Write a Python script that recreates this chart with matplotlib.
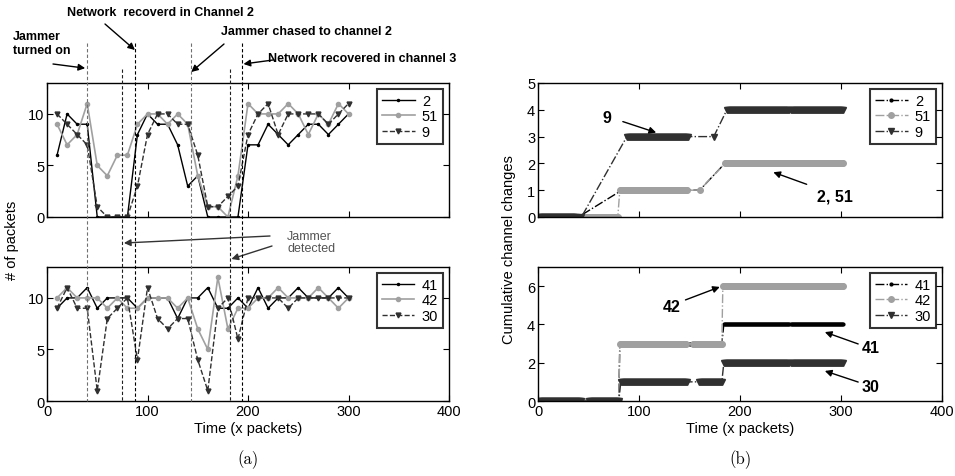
import matplotlib
matplotlib.use("Agg")
import matplotlib.pyplot as plt
import matplotlib.transforms as mtransforms
from matplotlib.lines import Line2D
import numpy as np

# ---- data: packets received per window (panel a) ----
t_pk = [10, 20, 30, 40, 50, 60, 70, 80, 90, 100, 110, 120, 130, 140, 150,
        160, 170, 180, 190, 200, 210, 220, 230, 240, 250, 260, 270, 280, 290, 300]

pk_2 = [6, 10, 9, 9, 0, 0, 0, 0, 8, 10, 9, 9, 7, 3, 4,
        0, 0, 0, 0, 7, 7, 9, 8, 7, 8, 9, 9, 8, 9, 10]
pk_51 = [9, 7, 8, 11, 5, 4, 6, 6, 9, 10, 10, 9, 10, 9, 4,
         1, 1, 0, 4, 11, 10, 10, 10, 11, 10, 8, 10, 9, 11, 10]
pk_9 = [10, 9, 8, 7, 1, 0, 0, 0, 3, 8, 10, 10, 9, 9, 6,
        1, 1, 2, 3, 8, 10, 11, 8, 10, 10, 10, 10, 9, 10, 11]

pk_41 = [9, 10, 10, 11, 9, 10, 10, 10, 9, 10, 10, 10, 8, 10, 10,
         11, 9, 9, 10, 9, 11, 9, 10, 10, 11, 10, 10, 10, 11, 10]
pk_42 = [10, 11, 10, 10, 10, 9, 10, 9, 9, 10, 10, 10, 9, 10, 7,
         5, 12, 7, 9, 9, 10, 10, 11, 10, 10, 10, 11, 10, 9, 10]
pk_30 = [9, 11, 9, 9, 1, 8, 9, 10, 4, 11, 8, 7, 8, 8, 4,
         1, 9, 10, 6, 10, 10, 10, 10, 9, 10, 10, 10, 10, 10, 10]

# ---- data: cumulative channel changes (panel b), runs of (first, last, level) ----
cc_2 = [(1, 40, 0), (83, 148, 1), (160, 160, 1), (185, 302, 2)]
cc_51 = [(1, 79, 0), (81, 148, 1), (160, 160, 1), (185, 302, 2)]
cc_9 = [(1, 38, 0), (43, 43, 0), (88, 149, 3), (174, 174, 3), (187, 302, 4)]

cc_41 = [(1, 80, 0), (81, 182, 3), (184, 302, 4)]
cc_42 = [(1, 80, 0), (81, 147, 3), (153, 182, 3), (183, 302, 6)]
cc_30 = [(1, 43, 0), (50, 80, 0), (82, 148, 1), (159, 182, 1), (184, 302, 2)]

# jammer / recovery events (packets)
events = [40, 75, 88, 143, 182, 194]
event_col = ["#707070", "#202020", "#000000", "#707070", "#202020", "#000000"]
event_top = [0.908, 0.853, 0.908, 0.908, 0.853, 0.908]

BLACK = "#000000"
GRAY = "#a0a0a0"
DARK = "#303030"

plt.rcParams["font.family"] = ["Liberation Sans", "DejaVu Sans"]
plt.rcParams["font.size"] = 10.5


def expand(runs):
    xs, ys = [], []
    for a, b, v in runs:
        for x in range(a, b + 1):
            xs.append(x)
            ys.append(v)
    return np.array(xs), np.array(ys)


def style_axes(ax, ylim, yticks, xlabels=True):
    ax.set_xlim(0, 400)
    ax.set_ylim(*ylim)
    ax.set_yticks(yticks)
    ax.set_xticks([0, 100, 200, 300, 400])
    if not xlabels:
        ax.set_xticklabels([])
    ax.tick_params(direction="in", top=True, right=True, length=4, width=0.8,
                   labelsize=10.5, pad=2)
    for s in ax.spines.values():
        s.set_linewidth(1.0)


def legend(ax):
    leg = ax.legend(loc="upper right", fontsize=10.5, handlelength=2.2,
                    borderaxespad=0.4, labelspacing=0.1, fancybox=False,
                    borderpad=0.35, handletextpad=0.5)
    leg.get_frame().set_edgecolor("black")
    leg.get_frame().set_linewidth(1.5)


fig = plt.figure(figsize=(9.55, 4.77), dpi=100)
W, H = 955, 477


def box(x0, y0, x1, y1):
    return [x0 / W, 1 - y1 / H, (x1 - x0) / W, (y1 - y0) / H]


ax_a1 = fig.add_axes(box(47, 84, 449, 218))
ax_a2 = fig.add_axes(box(47, 268, 449, 402))
ax_b1 = fig.add_axes(box(538, 84, 942, 218))
ax_b2 = fig.add_axes(box(538, 268, 942, 402))

# panel a
ax_a1.plot(t_pk, pk_2, "-", color=BLACK, marker=".", ms=3, lw=1.0, label="2")
ax_a1.plot(t_pk, pk_51, "-", color=GRAY, marker="o", ms=3, lw=1.2, label="51")
ax_a1.plot(t_pk, pk_9, "--", color=DARK, marker="v", ms=3.5, lw=1.0, label="9")
style_axes(ax_a1, (0, 13), [0, 5, 10], xlabels=False)
legend(ax_a1)

ax_a2.plot(t_pk, pk_41, "-", color=BLACK, marker=".", ms=3, lw=1.0, label="41")
ax_a2.plot(t_pk, pk_42, "-", color=GRAY, marker="o", ms=3, lw=1.2, label="42")
ax_a2.plot(t_pk, pk_30, "--", color=DARK, marker="v", ms=3.5, lw=1.0, label="30")
style_axes(ax_a2, (0, 13), [0, 5, 10])
legend(ax_a2)
ax_a2.set_xlabel("Time (x packets)", labelpad=2)

# panel b
for ax, series in ((ax_b1, [("2", cc_2, BLACK, "."), ("51", cc_51, GRAY, "o"), ("9", cc_9, DARK, "v")]),
                   (ax_b2, [("41", cc_41, BLACK, "."), ("42", cc_42, GRAY, "o"), ("30", cc_30, DARK, "v")])):
    for name, runs, col, mk in series:
        xs, ys = expand(runs)
        ax.plot(xs, ys, "-.", color=col, marker=mk, ms=4, lw=1.0, label=name)
style_axes(ax_b1, (0, 5), [0, 1, 2, 3, 4, 5], xlabels=False)
style_axes(ax_b2, (0, 7), [0, 2, 4, 6])
legend(ax_b1)
legend(ax_b2)
ax_b2.set_xlabel("Time (x packets)", labelpad=2)

arrow = dict(arrowstyle="-|>", color="black", lw=1.0, mutation_scale=10, shrinkA=0, shrinkB=0)
bold = dict(fontsize=11.5, fontweight="bold")
ax_b1.text(68, 3.7, "9", ha="center", va="center", **bold)
ax_b1.annotate("", xy=(117, 3.15), xytext=(84, 3.56), arrowprops=arrow)
ax_b1.text(294, 0.78, "2, 51", ha="center", va="center", **bold)
ax_b1.annotate("", xy=(233, 1.67), xytext=(266, 1.22), arrowprops=arrow)
ax_b2.text(132, 4.96, "42", ha="center", va="center", **bold)
ax_b2.annotate("", xy=(180, 5.96), xytext=(146, 5.28), arrowprops=arrow)
ax_b2.text(329, 2.82, "41", ha="center", va="center", **bold)
ax_b2.annotate("", xy=(284, 3.6), xytext=(317, 2.98), arrowprops=arrow)
ax_b2.text(329, 0.78, "30", ha="center", va="center", **bold)
ax_b2.annotate("", xy=(284, 1.57), xytext=(317, 0.99), arrowprops=arrow)

# event lines spanning both panel-a axes
blend = mtransforms.blended_transform_factory(ax_a2.transData, fig.transFigure)
for x, c, top in zip(events, event_col, event_top):
    fig.add_artist(Line2D([x, x], [top, 0.157], transform=blend, color=c,
                          lw=0.8, ls=(0, (3, 2))))

note = dict(fontsize=9, fontweight="bold")
fig.text(13 / W, 1 - 31 / H, "Jammer\nturned on", ha="left", va="top",
         linespacing=1.25, **note)
ax_a2.annotate("", xy=(38, 0.855), xycoords=blend, xytext=(53 / W, 1 - 65 / H),
               textcoords="figure fraction", arrowprops=arrow)
fig.text(67 / W, 1 - 13 / H, "Network  recoverd in Channel 2", ha="left", va="center", **note)
ax_a2.annotate("", xy=(87.5, 1 - 51 / H), xycoords=blend, xytext=(105 / W, 1 - 25 / H),
               textcoords="figure fraction", arrowprops=arrow)
fig.text(221 / W, 1 - 32 / H, "Jammer chased to channel 2", ha="left", va="center", **note)
ax_a2.annotate("", xy=(143.5, 1 - 73 / H), xycoords=blend, xytext=(224 / W, 1 - 45 / H),
               textcoords="figure fraction", arrowprops=arrow)
fig.text(268 / W, 1 - 59 / H, "Network recovered in channel 3", ha="left", va="center", **note)
ax_a2.annotate("", xy=(195.5, 1 - 65 / H), xycoords=blend, xytext=(273 / W, 1 - 61 / H),
               textcoords="figure fraction", arrowprops=arrow)

garrow = dict(arrow, color="#333333")
fig.text(287 / W, 1 - 231 / H, "Jammer\ndetected", ha="left", va="top",
         fontsize=9, color="#555555", linespacing=1.0)
ax_a2.annotate("", xy=(76.5, 1 - 244 / H), xycoords=blend, xytext=(270 / W, 1 - 237 / H),
               textcoords="figure fraction", arrowprops=garrow)
ax_a2.annotate("", xy=(183.5, 1 - 260 / H), xycoords=blend, xytext=(272 / W, 1 - 247 / H),
               textcoords="figure fraction", arrowprops=garrow)

fig.text(12 / W, 1 - 240 / H, "# of packets", rotation=90, ha="center", va="center")
fig.text(509 / W, 1 - 250 / H, "Cumulative channel changes", rotation=90,
         ha="center", va="center")

fig.text(248 / W, 1 - 460 / H, "(a)", ha="center", va="center", fontsize=12,
         family=["cmr10", "DejaVu Serif"])
fig.text(740 / W, 1 - 460 / H, "(b)", ha="center", va="center", fontsize=12,
         family=["cmr10", "DejaVu Serif"])

fig.savefig("out.png", dpi=100)
